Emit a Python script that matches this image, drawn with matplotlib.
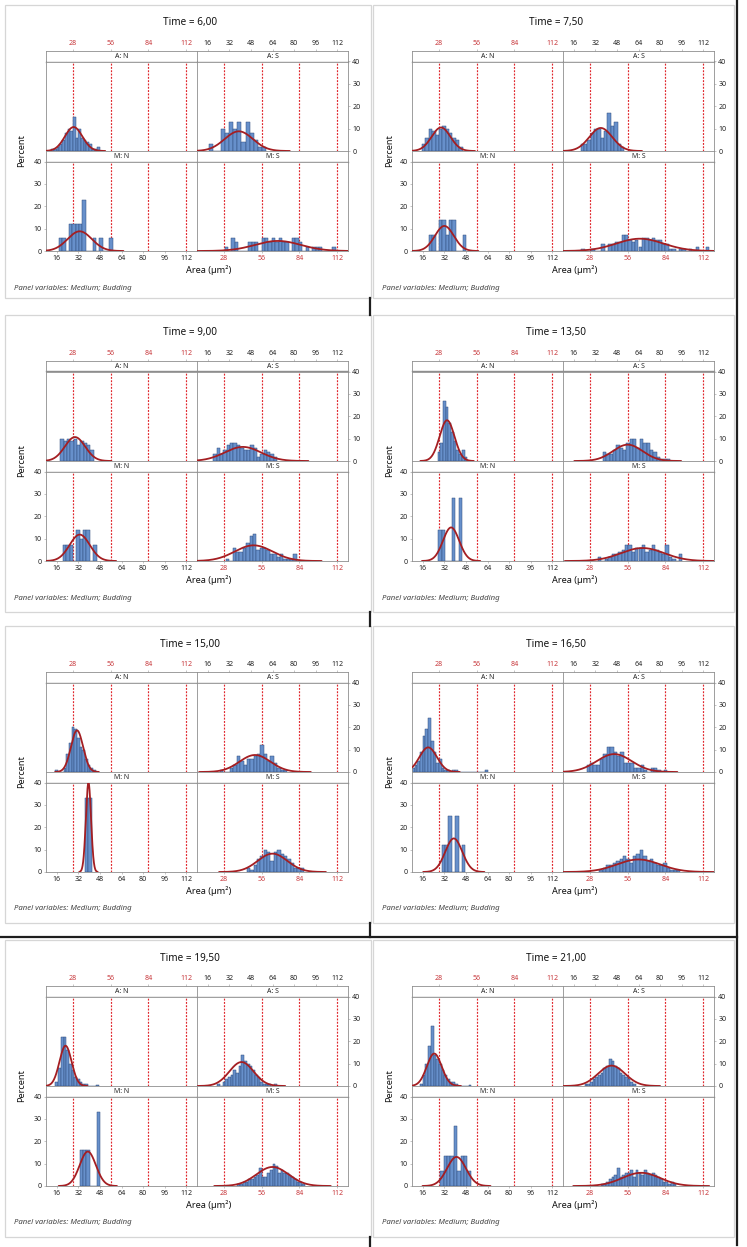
import numpy as np
import matplotlib
matplotlib.use('Agg')
import matplotlib.pyplot as plt
from matplotlib.patches import Rectangle
from matplotlib.lines import Line2D

plt.rcParams['font.family'] = ['Noto Sans', 'DejaVu Sans']

# ---------------- data (percent per bin) ----------------
TIMES = ['6,00', '7,50', '9,00', '13,50', '15,00', '16,50', '19,50', '21,00']
STRIPS = ['A: N', 'A: S', 'M: N', 'M: S']
TICKS_BLACK = [16, 32, 48, 64, 80, 96, 112]
TICKS_RED = [28, 56, 84, 112]
Y_TICKS = [0, 10, 20, 30, 40]

# Time = 6,00
h600_AN = [1, 1, 2, 3, 5, 8, 10, 9, 15, 6, 10, 6, 5, 4, 3, 1, 1, 2]
h600_AS = [3, 0, 0, 10, 8, 13, 10, 13, 4, 13, 8, 5, 2, 2]
h600_MN = [6, 6, 0, 12, 12, 12, 12, 23, 0, 0, 6, 0, 6, 0, 0, 6]
h600_MS = [2, 0, 6, 4, 0, 0, 0, 4, 4, 4, 0, 6, 6, 4, 6, 4, 6, 4, 4, 0, 6, 6, 4,
           0, 2, 0, 2, 2, 2, 0, 0, 0, 2]
bins600 = {'AN': (12, 2), 'AS': (17, 3), 'MN': (17.5, 2.5), 'MS': (28.5, 2.5)}
fit600 = {'AN': (28.5, 6.5, 10.7), 'AS': (39, 10.5, 8.8), 'MN': (33, 9, 8.8), 'MS': (68, 17, 4.5)}

# Time = 7,50
h750_AN = [3, 6, 10, 9, 7, 10, 11, 10, 8, 6, 5, 2]
h750_AS = [3, 3, 5, 8, 10, 10, 6, 9, 17, 11, 13, 3, 2]
h750_MN = [7, 7, 0, 14, 14, 7, 14, 14, 0, 0, 7]
h750_MS = [1, 0, 0, 1, 0, 0, 3, 0, 3, 3, 4, 4, 7, 7, 5, 4, 5, 2, 6, 6, 5, 6, 5, 5,
           3, 3, 1, 1, 0, 1, 1, 0, 1, 0, 2, 0, 0, 2]
bins750 = {'AN': (15.5, 2.5), 'AS': (21, 2.5), 'MN': (20.5, 2.5), 'MS': (21.5, 2.5)}
fit750 = {'AN': (29.5, 7, 10.5), 'AS': (36, 8.5, 10.3), 'MN': (32, 7, 11.2), 'MS': (65, 17.5, 5.5)}

# Time = 9,00
h900_AN = [10, 9, 10, 9, 10, 7, 9, 8, 7, 5]
h900_AS = [3, 6, 3, 5, 7, 8, 8, 7, 6, 5, 5, 7, 6, 2, 3, 5, 4, 3, 2]
h900_MN = [7, 7, 7, 0, 14, 10, 14, 14, 0, 7]
h900_MS = [1, 0, 6, 4, 4, 6, 8, 11, 12, 5, 6, 6, 5, 3, 3, 2, 3, 1, 1, 1, 3]
bins900 = {'AN': (18.5, 2.5), 'AS': (20, 2.5), 'MN': (20.5, 2.5), 'MS': (29.5, 2.5)}
fit900 = {'AN': (29.5, 7.5, 10.7), 'AS': (42, 13.5, 6.3), 'MN': (33, 7.5, 11.8), 'MS': (50, 14, 7)}

# Time = 13,50
h1350_AN = [4, 8, 27, 24, 17, 13, 9, 5, 3, 5, 2]
h1350_AS = [4, 3, 3, 5, 7, 6, 5, 8, 10, 10, 6, 10, 8, 8, 5, 4, 2, 1, 1, 1]
h1350_MN = [14, 14, 0, 0, 28, 0, 28]
h1350_MS = [2, 0, 1, 2, 3, 3, 4, 5, 7, 7, 4, 6, 6, 7, 4, 5, 7, 5, 4, 3, 7, 2, 1, 0, 3]
bins1350 = {'AN': (27, 2), 'AS': (37.5, 2.5), 'MN': (27.5, 2.5), 'MS': (34, 2.5)}
fit1350 = {'AN': (34, 5.5, 18.2), 'AS': (56, 11, 7.3), 'MN': (37, 6, 15), 'MS': (67, 16, 5.8)}

# Time = 15,00
h1500_AN = [1, 0, 0, 2, 8, 13, 20, 19, 15, 11, 10, 6, 3, 2, 1]
h1500_AS = [1, 0, 0, 2, 3, 7, 5, 3, 6, 6, 7, 8, 12, 8, 5, 7, 4, 2, 1, 1]
h1500_MN = [33, 33]
h1500_MS = [2, 1, 3, 6, 7, 10, 9, 5, 9, 10, 8, 7, 6, 4, 2, 2, 2]
bins1500 = {'AN': (15, 2), 'AS': (25, 2.5), 'MN': (37, 2.5), 'MS': (45, 2.5)}
fit1500 = {'AN': (31, 4.5, 18.6), 'AS': (51, 11.5, 7.6), 'MN': (39.5, 1.9, 40), 'MS': (64, 11, 8.2)}

# Time = 16,50
h1650_AN = [2, 3, 5, 9, 16, 19, 24, 14, 9, 4, 6, 2, 1, 1, 0, 1, 1, 0, 0, 0, 0, 0,
            0, 0, 0, 0, 0, 1]
h1650_AS = [3, 4, 3, 3, 6, 8, 11, 11, 9, 7, 9, 4, 4, 4, 2, 2, 3, 1, 0, 2, 2, 1, 0, 1]
h1650_MN = [12, 12, 25, 0, 25, 0, 12]
h1650_MS = [1, 2, 3, 3, 4, 5, 6, 7, 6, 4, 7, 8, 10, 7, 5, 6, 4, 3, 3, 4, 2, 1, 1, 1]
bins1650 = {'AN': (8, 2), 'AS': (25.5, 2.5), 'MN': (30, 2.5), 'MS': (35, 2.5)}
fit1650 = {'AN': (20, 6.5, 11), 'AS': (46, 13, 8), 'MN': (39, 6.3, 15), 'MS': (64, 16, 5.6)}

# Time = 19,50
h1950_AN = [2, 8, 22, 22, 16, 10, 7, 4, 3, 2, 1, 1, 0, 0, 0, 0.6]
h1950_AS = [1, 0, 2, 3, 4, 5, 7, 6, 9, 14, 11, 10, 9, 7, 5, 4, 2, 1, 1, 1, 0, 1]
h1950_MN = [16, 16, 16, 0, 0, 33]
h1950_MS = [1, 1, 2, 2, 3, 3, 4, 5, 8, 4, 4, 6, 7, 10, 9, 6, 7, 6, 6, 5, 4, 3, 2, 2, 1]
bins1950 = {'AN': (15, 2), 'AS': (23, 2), 'MN': (33, 2.5), 'MS': (38, 2)}
fit1950 = {'AN': (22.5, 4.5, 18), 'AS': (41, 9, 10.7), 'MN': (39, 6, 15.4), 'MS': (64, 12, 8.5)}

# Time = 21,00
h2100_AN = [1, 5, 10, 18, 27, 14, 12, 10, 7, 5, 3, 2, 2, 1, 0, 0, 0, 0, 0.6]
h2100_AS = [1, 1, 2, 3, 4, 5, 6, 8, 9, 12, 11, 9, 8, 6, 5, 4, 3, 2, 1]
h2100_MN = [6.7, 13.3, 13.3, 13.3, 26.7, 6.7, 13.3, 13.3, 6.7]
h2100_MS = [1, 1, 2, 3, 4, 5, 8, 4, 5, 6, 6, 7, 4, 7, 6, 5, 7, 6, 5, 6, 5, 4, 3, 2,
            2, 1, 2, 1]
bins2100 = {'AN': (14, 2), 'AS': (24, 2), 'MN': (29, 2.5), 'MS': (36, 2)}
fit2100 = {'AN': (24.5, 5.5, 14.5), 'AS': (44, 10, 9.1), 'MN': (41, 7, 13), 'MS': (66, 14, 5.9)}

PANELS = [
    ({'AN': h600_AN, 'AS': h600_AS, 'MN': h600_MN, 'MS': h600_MS}, bins600, fit600),
    ({'AN': h750_AN, 'AS': h750_AS, 'MN': h750_MN, 'MS': h750_MS}, bins750, fit750),
    ({'AN': h900_AN, 'AS': h900_AS, 'MN': h900_MN, 'MS': h900_MS}, bins900, fit900),
    ({'AN': h1350_AN, 'AS': h1350_AS, 'MN': h1350_MN, 'MS': h1350_MS}, bins1350, fit1350),
    ({'AN': h1500_AN, 'AS': h1500_AS, 'MN': h1500_MN, 'MS': h1500_MS}, bins1500, fit1500),
    ({'AN': h1650_AN, 'AS': h1650_AS, 'MN': h1650_MN, 'MS': h1650_MS}, bins1650, fit1650),
    ({'AN': h1950_AN, 'AS': h1950_AS, 'MN': h1950_MN, 'MS': h1950_MS}, bins1950, fit1950),
    ({'AN': h2100_AN, 'AS': h2100_AS, 'MN': h2100_MN, 'MS': h2100_MS}, bins2100, fit2100),
]

# ---------------- style / layout ----------------
XMIN, XMAX = 8, 120
BAR = '#6790CB'
BAR_EDGE = '#2E4C7C'
CURVE = '#A41E22'
RED = '#E0262C'
TICK_RED = '#C8383C'
SPINE = '#8E8E8E'
FS_TICK = 5.1

W, H = 747, 1247
fig = plt.figure(figsize=(W / 100, H / 100), dpi=100)
fig.patch.set_facecolor('white')


def add_ax(x0, y0, x1, y1):
    return fig.add_axes([x0 / W, 1 - y1 / H, (x1 - x0) / W, (y1 - y0) / H])


def fig_line(x0, y0, x1, y1, **kw):
    fig.add_artist(Line2D([x0 / W, x1 / W], [1 - y0 / H, 1 - y1 / H],
                          transform=fig.transFigure, **kw))


ROW_TOP = [5, 315, 626, 940]
ROW_BOT = [298, 612, 923, 1237]
COL_L = [5, 373]
COL_R = [371, 734]
GRID_L = [46, 412]
GRID_R = [348, 714]


def style_axes(ax):
    for sp in ax.spines.values():
        sp.set_color(SPINE)
        sp.set_linewidth(0.6)
    ax.tick_params(length=1.5, width=0.4, color='#999999', pad=1.5,
                   labelsize=FS_TICK, labelcolor='#222222')
    ax.set_xlim(XMIN, XMAX)


def draw_sub(ax, heights, binspec, fit):
    start, width = binspec
    edges = start + width * np.arange(len(heights))
    ax.bar(edges, heights, width=width, align='edge', color=BAR,
           edgecolor=BAR_EDGE, linewidth=0.35, zorder=2)
    m, s, pk = fit
    x = np.linspace(max(XMIN, m - 3.6 * s), min(XMAX, m + 3.6 * s), 300)
    ax.plot(x, pk * np.exp(-0.5 * ((x - m) / s) ** 2), color=CURVE, lw=1.3,
            zorder=3, solid_capstyle='round')
    for v in TICKS_RED:
        ax.axvline(v, color=RED, lw=0.85, ls=(0, (1.6, 1.2)), zorder=1)
    ax.set_ylim(0, 40)
    style_axes(ax)


for i, (hs, bins, fits) in enumerate(PANELS):
    r, c = divmod(i, 2)
    L, R, T, B = COL_L[c], COL_R[c], ROW_TOP[r], ROW_BOT[r]
    fig.add_artist(Rectangle((L / W, 1 - B / H), (R - L) / W, (B - T) / H,
                             transform=fig.transFigure, fill=False,
                             ec='#D6D6D6', lw=0.9))
    gx0, gx1 = GRID_L[c], GRID_R[c]
    gm = (gx0 + gx1) / 2
    s1, p1, p1b, s2b, p2b = T + 46, T + 56.5, T + 146, T + 156.5, T + 246

    fig.text((gm - 7) / W, 1 - (T + 18) / H, f'Time = {TIMES[i]}',
             ha='center', va='center', fontsize=7.2, fontweight='bold',
             color='#111111')
    fig.text((L + 17) / W, 1 - (T + 146) / H, 'Percent', rotation=90,
             ha='center', va='center', fontsize=6.6, fontweight='bold',
             color='#111111')
    fig.text((gm + 12) / W, 1 - (T + 265) / H, 'Area (µm²)',
             ha='center', va='center', fontsize=6.6, fontweight='bold',
             color='#111111')
    fig.text((L + 9) / W, 1 - (T + 283) / H, 'Panel variables: Medium; Budding',
             ha='left', va='center', fontsize=5.6, style='italic',
             color='#444444')

    cells = [('AN', gx0, gm, s1, p1, p1b), ('AS', gm, gx1, s1, p1, p1b),
             ('MN', gx0, gm, p1b, s2b, p2b), ('MS', gm, gx1, p1b, s2b, p2b)]
    for k, (key, xa, xb, ys, yp, yb) in enumerate(cells):
        # strip
        sax = add_ax(xa, ys, xb, yp)
        sax.set_facecolor('#FFFFFF')
        style_axes(sax)
        sax.spines['bottom'].set_linewidth(1.0)
        sax.set_yticks([])
        sax.text(0.5, 0.45, STRIPS[k], transform=sax.transAxes, ha='center',
                 va='center', fontsize=5.0, color='#222222')
        if key in ('AN', 'AS'):
            sax.xaxis.tick_top()
            if key == 'AN':
                sax.set_xticks(TICKS_RED)
                sax.tick_params(axis='x', labelcolor=TICK_RED)
            else:
                sax.set_xticks(TICKS_BLACK)
        else:
            sax.set_xticks([])
        # plot
        ax = add_ax(xa, yp, xb, yb)
        draw_sub(ax, hs[key], bins[key], fits[key])
        if key == 'AN':
            ax.set_xticks([])
            ax.set_yticks([])
        elif key == 'AS':
            ax.set_xticks([])
            ax.yaxis.tick_right()
            ax.set_yticks(Y_TICKS)
        elif key == 'MN':
            ax.set_xticks(TICKS_BLACK)
            ax.set_yticks(Y_TICKS)
        else:
            ax.set_xticks(TICKS_RED)
            ax.tick_params(axis='x', labelcolor=TICK_RED)
            ax.set_yticks([])

# separator lines of the composite figure
dark = dict(color='#1E1E1E', lw=1.6)
fig_line(737, 0, 737, 1245, **dark)
fig_line(0, 937, 737, 937, **dark)
for y0, y1 in [(298, 315), (612, 626), (923, 937), (1237, 1247)]:
    fig_line(370, y0, 370, y1, **dark)

fig.savefig('out.png', dpi=100, facecolor='white')
